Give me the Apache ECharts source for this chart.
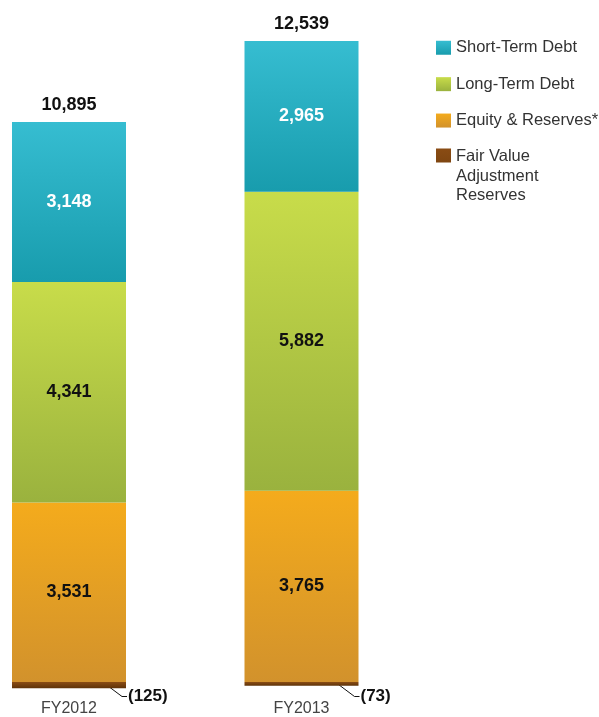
<!DOCTYPE html>
<html>
<head>
<meta charset="utf-8">
<title>Capital Structure FY2012–FY2013</title>
<script src="https://cdn.jsdelivr.net/npm/echarts@6/dist/echarts.min.js"></script>
<style>
  html, body { margin: 0; padding: 0; background: #ffffff; }
  #chart { width: 599px; height: 717px; }
</style>
</head>
<body>
<div id="chart"></div>
<script>
// Funding mix by financial year (S$ million)
const categories = ['FY2012', 'FY2013'];
const shortTermDebt = [3148, 2965];
const longTermDebt = [4341, 5882];
const equityReserves = [3531, 3765];
const fairValueAdj = [-125, -73];
const totals = [10895, 12539];

const FONT = "'Liberation Sans', Arial, Helvetica, sans-serif";
const BAR_W = 114;

function vGrad(top, bottom) {
  return new echarts.graphic.LinearGradient(0, 0, 0, 1, [
    { offset: 0, color: top },
    { offset: 1, color: bottom }
  ]);
}

const fmt = v => Math.abs(v).toLocaleString('en-US');

const chart = echarts.init(document.getElementById('chart'), null, { renderer: 'canvas' });

const insideLabel = (color) => ({
  show: true,
  position: 'inside',
  color: color,
  fontFamily: FONT,
  fontSize: 18,
  fontWeight: 'bold',
  formatter: p => fmt(p.value)
});

const legendText = { fontFamily: FONT, fontSize: 16.5, lineHeight: 19.5, color: '#333333' };

chart.setOption({
  animation: false,
  backgroundColor: '#ffffff',
  textStyle: { fontFamily: FONT },
  grid: {
    left: 69,
    width: 232.5,
    top: 31.44,
    height: 660.73,
    outerBoundsMode: 'none'
  },
  legend: [
    {
      orient: 'vertical',
      left: 431,
      top: 33,
      itemWidth: 15,
      itemHeight: 14,
      itemGap: 16.9,
      icon: 'rect',
      selectedMode: false,
      textStyle: legendText,
      data: ['Short-Term Debt', 'Long-Term Debt', 'Equity & Reserves*']
    },
    {
      orient: 'vertical',
      left: 431,
      top: 142,
      itemWidth: 15,
      itemHeight: 58.5,
      selectedMode: false,
      // square swatch sitting beside the first line of a three-line caption
      icon: 'path://M0,2.75H15V16.75H0Z M0,58.5L0.001,58.5L0,58.499Z',
      formatter: () => 'Fair Value\nAdjustment\nReserves',
      textStyle: legendText,
      data: ['Fair Value Adjustment Reserves']
    }
  ],
  xAxis: {
    type: 'category',
    data: categories,
    boundaryGap: false,
    axisLine: { show: false },
    axisTick: { show: false },
    axisLabel: { margin: 8, fontFamily: FONT, fontSize: 16, color: '#444444' }
  },
  yAxis: {
    type: 'value',
    min: -200,
    max: 12800,
    show: false,
    splitLine: { show: false }
  },
  series: [
    {
      name: 'Fair Value Adjustment Reserves',
      type: 'bar',
      stack: 'funding',
      barWidth: BAR_W,
      clip: false,
      itemStyle: { color: vGrad('#8a4c14', '#5e3208') },
      data: fairValueAdj
    },
    {
      name: 'Equity & Reserves*',
      type: 'bar',
      stack: 'funding',
      barWidth: BAR_W,
      clip: false,
      itemStyle: { color: vGrad('#f4ab1c', '#d2922c') },
      label: insideLabel('#111111'),
      data: equityReserves
    },
    {
      name: 'Long-Term Debt',
      type: 'bar',
      stack: 'funding',
      barWidth: BAR_W,
      clip: false,
      itemStyle: { color: vGrad('#c8dc4a', '#9ab23e') },
      label: insideLabel('#111111'),
      data: longTermDebt
    },
    {
      name: 'Short-Term Debt',
      type: 'bar',
      stack: 'funding',
      barWidth: BAR_W,
      clip: false,
      itemStyle: { color: vGrad('#36bdd1', '#189cad') },
      label: insideLabel('#ffffff'),
      data: shortTermDebt
    },
    {
      // zero-height cap carrying the net total above each column
      name: 'Total',
      type: 'bar',
      stack: 'funding',
      barWidth: BAR_W,
      clip: false,
      itemStyle: { color: 'rgba(0,0,0,0)' },
      label: {
        show: true,
        position: 'top',
        distance: 8,
        color: '#111111',
        fontFamily: FONT,
        fontSize: 18,
        fontWeight: 'bold',
        formatter: p => fmt(totals[p.dataIndex])
      },
      data: totals.map(() => 0)
    },
    {
      // leader line and bracketed caption for the negative reserve strip
      name: 'Fair Value Callout',
      type: 'custom',
      coordinateSystem: 'cartesian2d',
      silent: true,
      data: fairValueAdj.map((v, i) => [i, v]),
      renderItem: (params, api) => {
        const zero = api.coord([api.value(0), 0]);
        const right = zero[0] + BAR_W / 2;
        const y0 = zero[1];
        return {
          type: 'group',
          children: [
            {
              type: 'polyline',
              shape: { points: [[right - 20, y0 + 2.5], [right - 4, y0 + 14.5], [right + 1, y0 + 14.5]] },
              style: { stroke: '#111111', lineWidth: 1, fill: null }
            },
            {
              type: 'text',
              x: right + 2,
              y: y0 + 14.5,
              style: {
                text: '(' + fmt(api.value(1)) + ')',
                fontFamily: FONT,
                fontSize: 17,
                fontWeight: 'bold',
                fill: '#111111',
                align: 'left',
                verticalAlign: 'middle'
              }
            }
          ]
        };
      }
    }
  ]
});
</script>
</body>
</html>
